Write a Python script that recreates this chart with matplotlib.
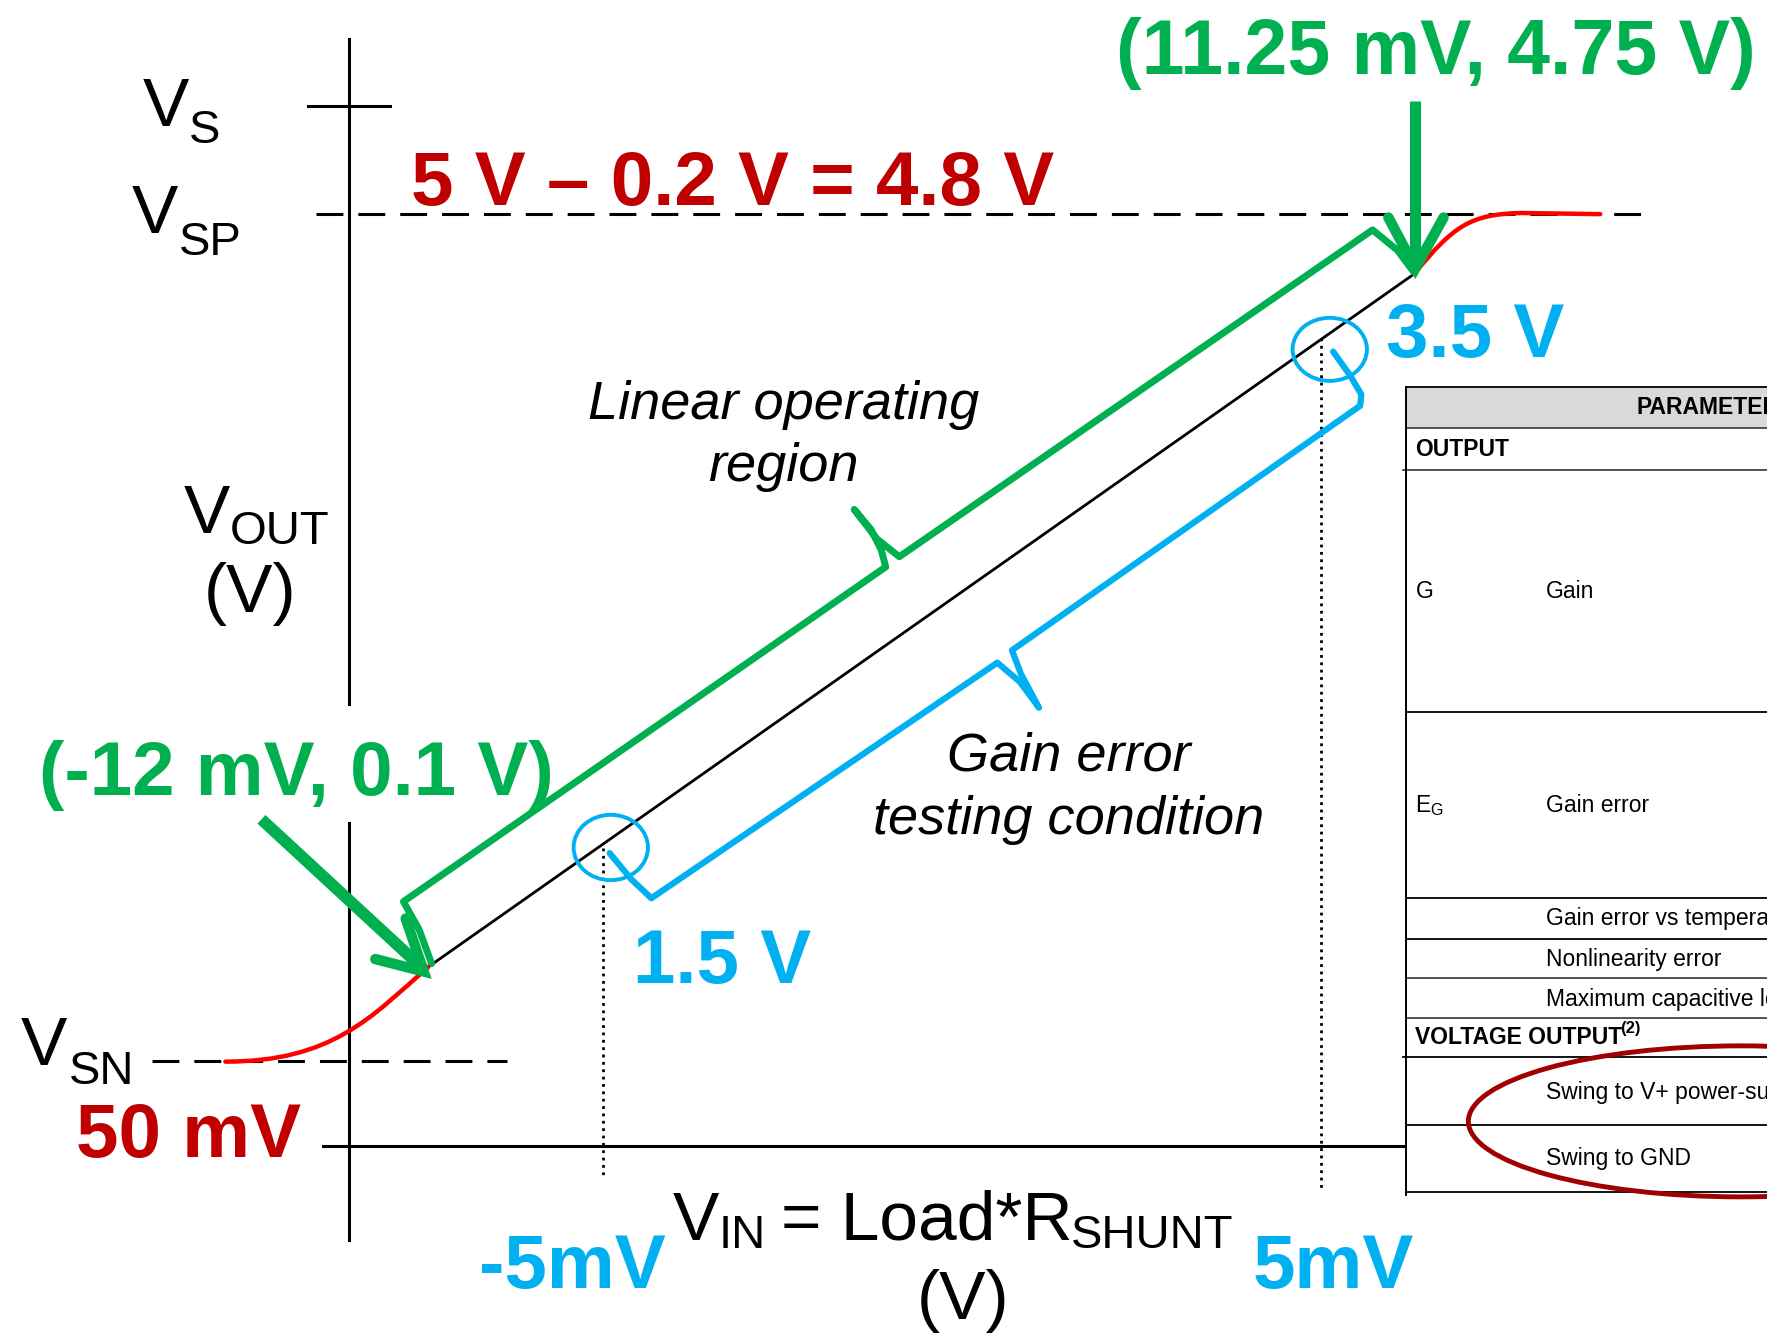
import matplotlib
matplotlib.use("Agg")
import matplotlib.pyplot as plt
from matplotlib.patches import Ellipse, Rectangle, PathPatch
from matplotlib.path import Path

plt.rcParams['font.family'] = ['Liberation Sans', 'DejaVu Sans']

VERDE = '#00B050'
AZUL = '#00B0F0'
VERMELHO = '#C00000'
VINHO = '#A00000'

# coordenadas do desenho (largura 1568, altura 1189, y cresce para baixo)
LARG, ALT = 1568, 1189

# eixos do grafico
eixo_y_x = 310
eixo_y_trechos = [(35, 625), (730, 1100)]  # interrompido pelo texto (-12 mV, 0.1 V)
eixo_x_y = 1017
eixo_x_lim = (287, 1245)
marca_vs_y = 94
marca_vs_lim = (273, 346)

# linhas tracejadas V_SP e V_SN
vsp_y, vsp_lim = 190, (280, 1465)
vsn_y, vsn_lim = 941, (135, 450)

# reta da regiao linear
reta_x = [380, 1255]
reta_y = [858, 243]

# saturacao (pontos de controle bezier)
sat_baixo_x = [200, 295, 330, 380]
sat_baixo_y = [942, 942, 902, 858]
sat_cima_x = [1255, 1290, 1305, 1350, 1420]
sat_cima_y = [243, 200, 190, 189, 190]

# chave verde (regiao linear) e chave azul (teste do erro de ganho)
chave_verde_x = [383, 372, 358, 786, 782, 773, 758, 778, 798, 1218, 1240, 1255]
chave_verde_y = [855, 825, 800, 503, 488, 470, 452, 478, 494, 204, 222, 242]
chave_azul_x = [541, 560, 578, 885, 905, 922, 906, 898, 1207, 1208, 1198, 1183]
chave_azul_y = [757, 780, 797, 588, 605, 628, 598, 577, 360, 350, 333, 312]

# circulos 1.5 V e 3.5 V
circulos = [(542, 752, 66, 58), (1180, 310, 66, 56)]
pontilhado_x = [535, 1172]
pontilhado_y = [(752, 1045), (300, 1055)]

# setas verdes
seta_baixo_x, seta_baixo_y = [232, 376], [727, 860]
ponta_baixo_x, ponta_baixo_y = [333, 376, 360], [851, 862, 815]
seta_cima_x, seta_cima_y = [1256, 1256], [90, 232]
ponta_cima_x, ponta_cima_y = [1232, 1256, 1281], [193, 238, 193]

# tabela do datasheet (cortada na direita)
tabela_x0 = 1248
tabela_linhas_y = [343, 380, 417, 632, 797, 833, 868, 903, 938, 998, 1058]
tabela_col1 = [('OUTPUT', 399, 'bold'), ('G', 525, 'normal'),
               (r'$\mathregular{E_G}$', 715, 'normal'), ('VOLTAGE OUTPUT', 921, 'bold')]
tabela_col2 = [('Gain', 525), ('Gain error', 715), ('Gain error vs temperature', 815),
               ('Nonlinearity error', 851), ('Maximum capacitive load', 887),
               ('Swing to V+ power-supply rail', 969), ('Swing to GND', 1028)]

fig = plt.figure(figsize=(17.67, 13.40), dpi=100)
ax = fig.add_axes([0, 0, 1, 1])
ax.set_xlim(0, LARG)
ax.set_ylim(ALT, 0)
ax.axis('off')

# EIXOS
for y0, y1 in eixo_y_trechos:
    ax.plot([eixo_y_x, eixo_y_x], [y0, y1], color='black', lw=2.2)
ax.plot(eixo_x_lim, [eixo_x_y, eixo_x_y], color='black', lw=2.2)
ax.plot(marca_vs_lim, [marca_vs_y, marca_vs_y], color='black', lw=2.2)
ax.plot(vsp_lim, [vsp_y, vsp_y], color='black', lw=2.2, dashes=(8.8, 4.9))
ax.plot(vsn_lim, [vsn_y, vsn_y], color='black', lw=2.2, dashes=(8.8, 4.9))
for x, (y0, y1) in zip(pontilhado_x, pontilhado_y):
    ax.plot([x, x], [y0, y1], color='black', lw=2, ls=':')

# CURVA DE TRANSFERENCIA
ax.plot(reta_x, reta_y, color='black', lw=2, zorder=3)
cod = [Path.MOVETO, Path.CURVE4, Path.CURVE4, Path.CURVE4]
ax.add_patch(PathPatch(Path(list(zip(sat_baixo_x, sat_baixo_y)), cod),
                       fill=False, edgecolor='red', lw=3.2, capstyle='round', zorder=4))
ax.add_patch(PathPatch(Path(list(zip(sat_cima_x, sat_cima_y)), cod + [Path.LINETO]),
                       fill=False, edgecolor='red', lw=3.2, capstyle='round', zorder=4))

# CHAVES
ax.plot(chave_verde_x, chave_verde_y, color=VERDE, lw=5, solid_joinstyle='round',
        solid_capstyle='round', zorder=3)
ax.plot(chave_azul_x, chave_azul_y, color=AZUL, lw=4.5, solid_joinstyle='round',
        solid_capstyle='round', zorder=3)
for cx, cy, w, h in circulos:
    ax.add_patch(Ellipse((cx, cy), w, h, fill=False, edgecolor=AZUL, lw=2.8, zorder=4))

# SETAS
ax.plot(seta_baixo_x, seta_baixo_y, color=VERDE, lw=8.5, solid_capstyle='butt', zorder=5)
ax.plot(ponta_baixo_x, ponta_baixo_y, color=VERDE, lw=7.5, solid_joinstyle='miter',
        solid_capstyle='round', zorder=5)
ax.plot(seta_cima_x, seta_cima_y, color=VERDE, lw=8, solid_capstyle='butt', zorder=5)
ax.plot(ponta_cima_x, ponta_cima_y, color=VERDE, lw=7.5, solid_joinstyle='miter',
        solid_capstyle='round', zorder=5)

# TEXTOS
GRANDE = 55
NORMAL = 50
SUB = 34


def rotulo_v(x, y, sub, dx, dy):
    ax.text(x, y, 'V', fontsize=NORMAL, va='baseline', ha='left')
    ax.text(x + dx, y + dy, sub, fontsize=SUB, va='baseline', ha='left')


rotulo_v(127, 112, 'S', 41, 15)
rotulo_v(117, 207, 'SP', 42, 19)
rotulo_v(163, 473, 'OUT', 41, 10)
ax.text(222, 543, '(V)', fontsize=NORMAL, va='baseline', ha='center')
rotulo_v(18, 945, 'SN', 43, 17)

ax.text(990, 66, '(11.25 mV, 4.75 V)', fontsize=55.5, fontweight='bold', color=VERDE,
        va='baseline')
ax.text(365, 182, '5 V \u2013 0.2 V = 4.8 V', fontsize=GRANDE, fontweight='bold',
        color=VERMELHO, va='baseline')
ax.text(67, 1027, '50 mV', fontsize=GRANDE, fontweight='bold', color=VERMELHO, va='baseline')
ax.text(35, 705, '(-12 mV, 0.1 V)', fontsize=GRANDE, fontweight='bold', color=VERDE,
        va='baseline', zorder=6)
ax.text(1230, 317, '3.5 V', fontsize=GRANDE, fontweight='bold', color=AZUL, va='baseline')
ax.text(562, 872, '1.5 V', fontsize=GRANDE, fontweight='bold', color=AZUL, va='baseline')
ax.text(425, 1143, '-5mV', fontsize=GRANDE, fontweight='bold', color=AZUL, va='baseline')
ax.text(1112, 1143, '5mV', fontsize=GRANDE, fontweight='bold', color=AZUL, va='baseline')

ax.text(695, 372, 'Linear operating', fontsize=39, style='italic', ha='center', va='baseline')
ax.text(695, 427, 'region', fontsize=39, style='italic', ha='center', va='baseline')
ax.text(948, 684, 'Gain error', fontsize=39, style='italic', ha='center', va='baseline')
ax.text(948, 740, 'testing condition', fontsize=39, style='italic', ha='center', va='baseline')

# eixo x: V_IN = Load*R_SHUNT
ax.text(597, 1100, 'V', fontsize=NORMAL, va='baseline')
ax.text(638, 1107, 'IN', fontsize=SUB, va='baseline')
ax.text(693, 1100, '= Load*R', fontsize=NORMAL, va='baseline')
ax.text(950, 1107, 'SHUNT', fontsize=SUB, va='baseline')
ax.text(855, 1170, '(V)', fontsize=NORMAL, ha='center', va='baseline')

# TABELA
ax.add_patch(Rectangle((tabela_x0, tabela_linhas_y[0]), LARG - tabela_x0 + 10,
                       tabela_linhas_y[1] - tabela_linhas_y[0],
                       facecolor='#D9D9D9', edgecolor='none'))
for i, y in enumerate(tabela_linhas_y):
    cor = 'black' if i in (0, 3, 4, 5, 8, 9, 10) else '#444444'
    ax.plot([tabela_x0 - (3 if i in (2, 8) else 0), LARG + 5], [y, y], color=cor, lw=1.3)
ax.plot([tabela_x0, tabela_x0], [tabela_linhas_y[0], tabela_linhas_y[-1] + 2],
        color='black', lw=1.4)
TAB = 16.5
ax.text(1452, 362, 'PARAMETERS', fontsize=TAB, fontweight='bold', va='center')
for txt, y, peso in tabela_col1:
    ax.text(1256, y, txt, fontsize=TAB, fontweight=peso, va='center')
ax.text(1438, 913, '(2)', fontsize=12, fontweight='bold', va='center')
for txt, y in tabela_col2:
    ax.text(1372, y, txt, fontsize=TAB, va='center')

ax.add_patch(Ellipse((1545, 995), 484, 134, fill=False, edgecolor=VINHO, lw=3.5, zorder=4))

fig.savefig('out.png', dpi=100)
